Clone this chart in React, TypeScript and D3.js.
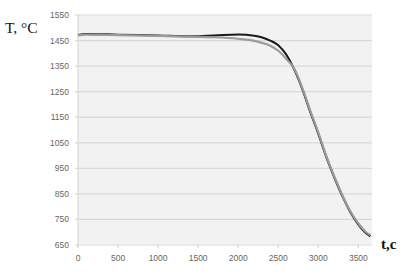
import {useEffect, useRef} from 'react';
import * as d3 from 'd3';

// time, s
const times = [0, 100, 500, 1000, 1400, 1700, 2000, 2200, 2300, 2400, 2500, 2600, 2700, 2800, 2900, 3000, 3100, 3200, 3300, 3400, 3500, 3600, 3650];
// temperature, °C
const darkSeries = [1472, 1476, 1473, 1470, 1467, 1470, 1474, 1469, 1462, 1450, 1432, 1395, 1336, 1260, 1170, 1085, 994, 914, 841, 778, 730, 695, 684];
const graySeries = [1470, 1473, 1471, 1468, 1465, 1463, 1457, 1449, 1441, 1430, 1410, 1378, 1340, 1265, 1175, 1090, 998, 918, 845, 782, 734, 699, 688];

const yTicks = [650, 750, 850, 950, 1050, 1150, 1250, 1350, 1450, 1550];
const xTicks = [0, 500, 1000, 1500, 2000, 2500, 3000, 3500];

export default function App() {
  const svgRef = useRef<SVGSVGElement>(null);

  useEffect(() => {
    if (!svgRef.current) return;
    const width = 408;
    const height = 274;
    const margin = {top: 15, right: 36, bottom: 29, left: 78};

    const svg = d3.select(svgRef.current).attr('width', width).attr('height', height);
    svg.selectAll('*').remove();

    svg.append('rect').attr('width', width).attr('height', height).attr('fill', '#ffffff');

    const x = d3.scaleLinear().domain([0, 3670]).range([margin.left, width - margin.right]);
    const y = d3.scaleLinear().domain([650, 1550]).range([height - margin.bottom, margin.top]);

    svg
      .append('rect')
      .attr('x', margin.left)
      .attr('y', margin.top)
      .attr('width', width - margin.left - margin.right)
      .attr('height', height - margin.top - margin.bottom)
      .attr('fill', '#f2f2f2');

    // gridlines
    svg
      .append('g')
      .selectAll('line')
      .data(yTicks)
      .join('line')
      .attr('x1', margin.left - 3)
      .attr('x2', width - margin.right)
      .attr('y1', (d) => y(d))
      .attr('y2', (d) => y(d))
      .attr('stroke', '#d9d9d9')
      .attr('stroke-width', 1.2);

    // vertical axis line
    svg
      .append('line')
      .attr('x1', margin.left)
      .attr('x2', margin.left)
      .attr('y1', margin.top)
      .attr('y2', height - margin.bottom + 3)
      .attr('stroke', '#d9d9d9')
      .attr('stroke-width', 1.2);

    // x ticks
    svg
      .append('g')
      .selectAll('line')
      .data(xTicks)
      .join('line')
      .attr('x1', (d) => x(d))
      .attr('x2', (d) => x(d))
      .attr('y1', height - margin.bottom)
      .attr('y2', height - margin.bottom + 3)
      .attr('stroke', '#d9d9d9')
      .attr('stroke-width', 1.2);

    const font = "'Liberation Sans', Arial, sans-serif";

    svg
      .append('g')
      .selectAll('text')
      .data(yTicks)
      .join('text')
      .attr('x', margin.left - 9)
      .attr('y', (d) => y(d) + 3)
      .attr('text-anchor', 'end')
      .attr('font-family', font)
      .attr('font-size', 8.5)
      .attr('fill', '#666666')
      .text((d) => d);

    svg
      .append('g')
      .selectAll('text')
      .data(xTicks)
      .join('text')
      .attr('x', (d) => x(d))
      .attr('y', height - margin.bottom + 16)
      .attr('text-anchor', 'middle')
      .attr('font-family', font)
      .attr('font-size', 8.5)
      .attr('fill', '#666666')
      .text((d) => d);

    const line = (vals: number[]) =>
      d3
        .line<number>()
        .x((_, i) => x(times[i]))
        .y((d) => y(d))
        .curve(d3.curveMonotoneX)(vals);

    svg
      .append('path')
      .attr('d', line(darkSeries))
      .attr('fill', 'none')
      .attr('stroke', '#1a1a1a')
      .attr('stroke-width', 2);

    svg
      .append('path')
      .attr('d', line(graySeries))
      .attr('fill', 'none')
      .attr('stroke', '#9a9a9a')
      .attr('stroke-width', 2.2);

    svg
      .append('text')
      .attr('x', 5)
      .attr('y', 33)
      .attr('font-family', "'Liberation Serif', 'Times New Roman', serif")
      .attr('font-size', 15.5)
      .attr('fill', '#111')
      .text('T, °C');

    svg
      .append('text')
      .attr('x', 381)
      .attr('y', 249)
      .attr('font-family', "'Liberation Serif', 'Times New Roman', serif")
      .attr('font-size', 15)
      .attr('font-weight', 'bold')
      .attr('fill', '#111')
      .text('t,c');
  }, []);

  return (
    <div>
      <svg ref={svgRef} style={{position: 'absolute', left: 0, top: 0, display: 'block'}} />
    </div>
  );
}
